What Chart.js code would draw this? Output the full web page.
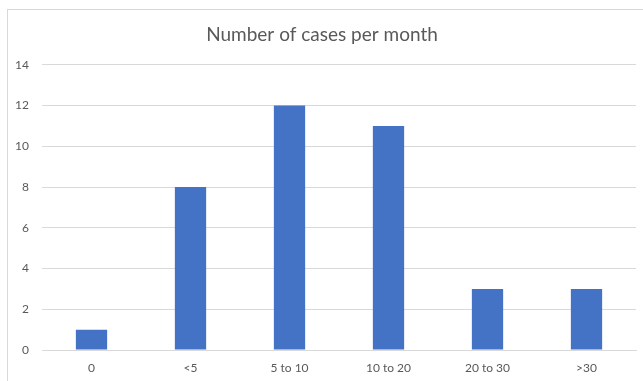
<!DOCTYPE html>
<html>
<head>
<meta charset="utf-8">
<script src="https://cdn.jsdelivr.net/npm/chart.js@4/dist/chart.umd.min.js"></script>
<style>
  html, body { margin: 0; padding: 0; background: #fff; overflow: hidden; }
  #frame {
    position: absolute; left: 7px; top: 9px;
    width: 660px; height: 400px;
    border: 1px solid #d9d9d9; background: #fff;
  }
  #wrap { position: absolute; left: 0; top: 0; width: 635px; height: 371px; }
</style>
</head>
<body>
<div id="frame"><div id="wrap"><canvas id="c"></canvas></div></div>
<script>
const categories = ['0', '<5', '5 to 10', '10 to 20', '20 to 30', '>30'];
const cases = [1, 8, 12, 11, 3, 3];
const chartTitle = 'Number of cases per month';

const textColor = '#595959';
const gridColor = '#d9d9d9';
const fontFamily = 'Lato, "Liberation Sans", sans-serif';

new Chart(document.getElementById('c'), {
  type: 'bar',
  data: {
    labels: categories,
    datasets: [{
      data: cases,
      backgroundColor: '#4472C4',
      borderWidth: 0,
      barPercentage: 0.632,
      categoryPercentage: 0.5
    }]
  },
  options: {
    responsive: true,
    maintainAspectRatio: false,
    animation: false,
    layout: { padding: { left: 0, right: 7, top: 0, bottom: 0 } },
    plugins: {
      legend: { display: false },
      tooltip: { enabled: false },
      title: {
        display: true,
        text: chartTitle,
        color: textColor,
        font: { family: fontFamily, size: 19, weight: 'normal' },
        padding: { top: 13, bottom: 19 }
      }
    },
    scales: {
      x: {
        grid: { display: false },
        border: { display: true, color: gridColor, width: 1 },
        ticks: {
          color: textColor,
          font: { family: fontFamily, size: 12 },
          padding: 3
        },
        afterFit: (s) => { s.height = 31; }
      },
      y: {
        min: 0,
        max: 14,
        ticks: {
          stepSize: 2,
          color: textColor,
          font: { family: fontFamily, size: 12 },
          padding: 13
        },
        grid: { color: gridColor, lineWidth: 1, drawTicks: false },
        border: { display: false },
        afterFit: (s) => { s.width = 34; }
      }
    }
  }
});
</script>
</body>
</html>
